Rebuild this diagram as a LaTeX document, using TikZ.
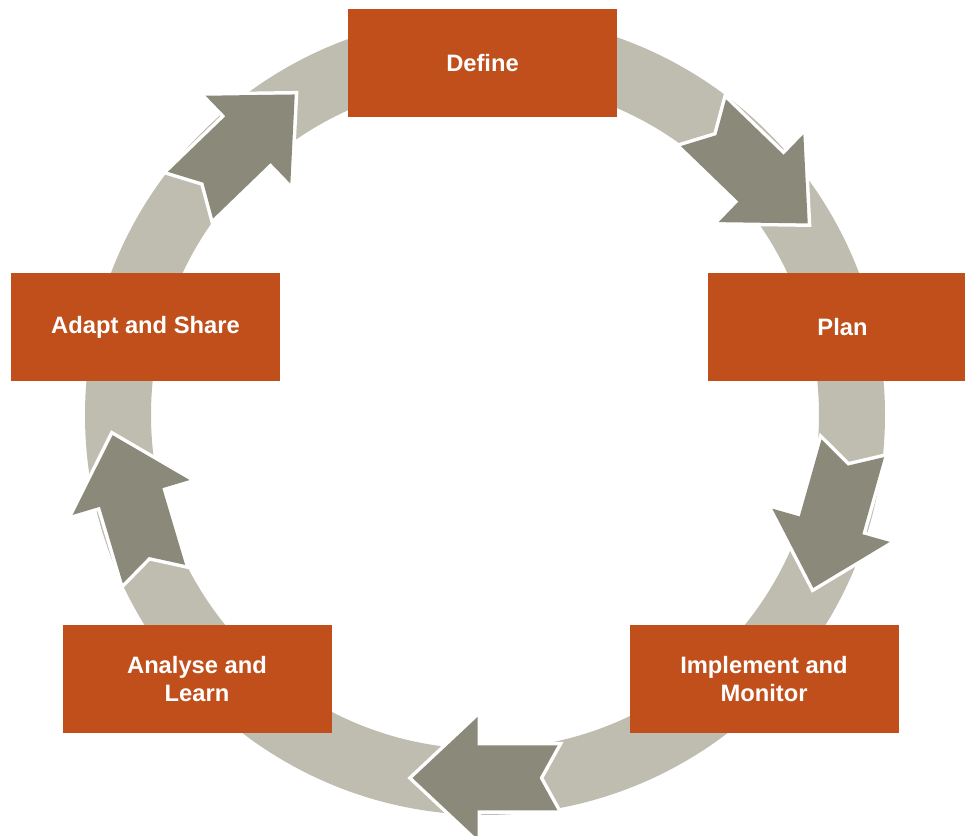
\documentclass[tikz,border=0pt]{standalone}
\usepackage{fontspec}
\setmainfont{Liberation Sans}
\definecolor{boxred}{RGB}{192,79,27}
\definecolor{ringgray}{RGB}{190,189,175}
\definecolor{arrowgray}{RGB}{139,138,122}
\begin{document}
\begin{tikzpicture}[
  stage/.style={fill=boxred, text=white, minimum width=5.38cm, minimum height=2.16cm,
    inner sep=0pt, align=center, font=\fontsize{13.5}{15.5}\selectfont\bfseries},
  cyclearrow/.style={fill=arrowgray, preaction={draw=white, line width=0.14cm}}
  ]
  \useasboundingbox (0,0) rectangle (19.3,-16.72);
  \clip (0,0) rectangle (19.3,-16.72);
  % the ring
  \fill[ringgray, even odd rule] (9.7,-8.3) circle (8) circle (6.68);
  % block arrows on the ring
  \begin{scope}[shift={(9.7,-8.3)}]
   \foreach \pos/\dir in {41.8/-44, -16.5/-105.8, -90/180, -165.7/106.6, 131.9/44}
    \fill[cyclearrow, shift={(\pos:7.26)}, rotate=\dir]
      (-1.45,0.65) -- (-1.09,0) -- (-1.45,-0.65) -- (0.15,-0.65) -- (0.15,-1.22)
      -- (1.45,0) -- (0.15,1.22) -- (0.15,0.65) -- cycle;
  \end{scope}
  % the stages
  \node (define)    [stage] at (9.65,-1.27)  {Define};
  \node (plan)      [stage] at (16.85,-6.54) {Plan};
  \node (implement) [stage] at (15.28,-13.58) {Implement and\\Monitor};
  \node (analyse)   [stage] at (3.94,-13.58) {Analyse and\\Learn};
  \node (adapt)     [stage] at (2.91,-6.54)  {Adapt and Share};
\end{tikzpicture}
\end{document}
